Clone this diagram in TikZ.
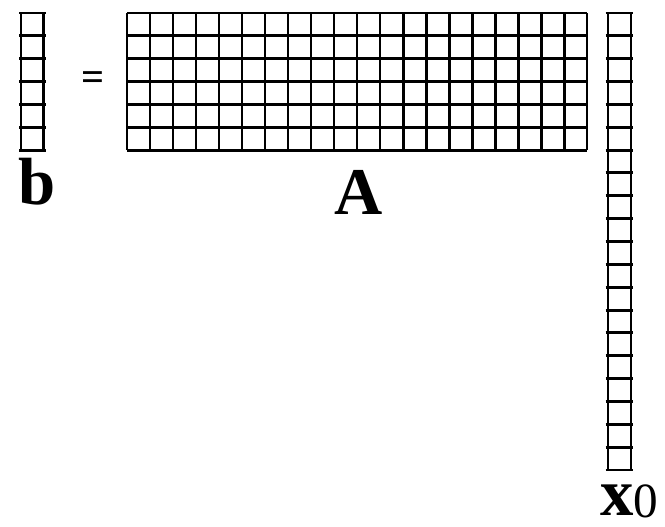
\documentclass[tikz,border=0pt]{standalone}
\usepackage{fontspec}
\setmainfont{Liberation Serif}
\usetikzlibrary{positioning}

\begin{document}
\begin{tikzpicture}[
    gridbox/.style={line width=1.7pt, xscale=0.46, yscale=0.457},
    veclabel/.style={inner sep=0pt, anchor=base, font=\fontsize{38}{40}\selectfont\bfseries}]
  \useasboundingbox (0,0) rectangle (13.3,-10.54);

  % --- b: 6 x 1 ---
  \draw[shift={(0.42,-0.26)}, gridbox] (0,0) grid (1,-6);
  \foreach \r in {0,...,6}
    \draw[shift={(0.42,-0.26)}, gridbox] (-0.08,-\r) -- (1.08,-\r);
  \node[veclabel] (blbl) at (0.75,-4.1) {b};

  % --- = ---
  \node[inner sep=0pt, font=\fontsize{23}{23}\selectfont\bfseries] (eq) at (1.87,-1.62) {=};

  % --- A: 6 x 20 ---
  \draw[shift={(2.54,-0.26)}, gridbox] (0,0) grid (20,-6);
  \node[veclabel] (Albl) at (7.18,-4.3) {A};

  % --- x0: 20 x 1 ---
  \draw[shift={(12.16,-0.26)}, gridbox] (0,0) grid (1,-20);
  \foreach \r in {0,...,20}
    \draw[shift={(12.16,-0.26)}, gridbox] (-0.1,-\r) -- (1.1,-\r);
  \node[veclabel, anchor=base west] (xlbl) at (12.0,-10.3)
    {x\raisebox{-0.04em}{\mdseries\fontsize{28}{28}\selectfont 0}};
\end{tikzpicture}
\end{document}
